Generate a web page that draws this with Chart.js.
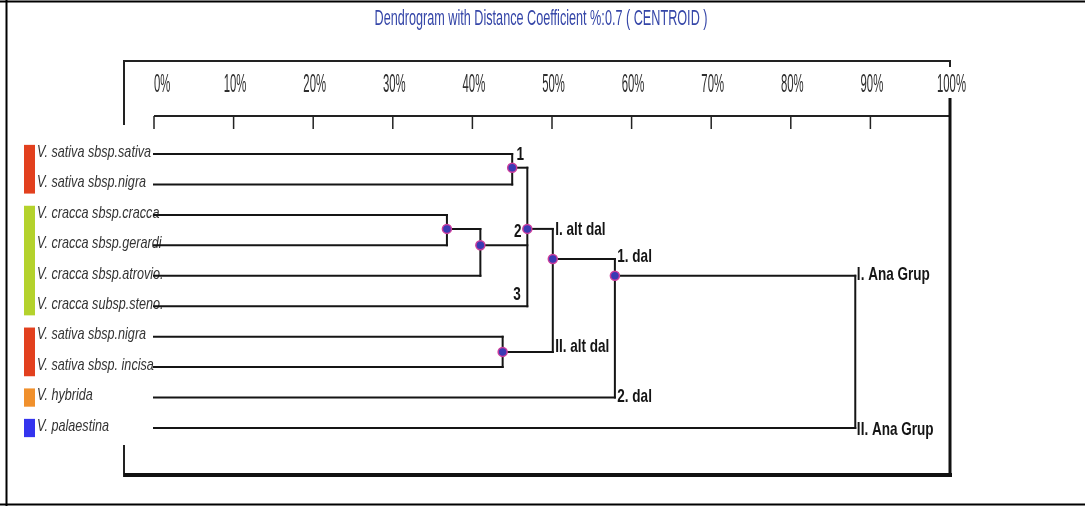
<!DOCTYPE html>
<html>
<head>
<meta charset="utf-8">
<title>Dendrogram</title>
<script src="https://cdn.jsdelivr.net/npm/chart.js@4.4.1/dist/chart.umd.min.js"></script>
<style>
  html, body { margin: 0; padding: 0; background: #fff; }
  #wrap { width: 1085px; height: 506px; }
</style>
</head>
<body>
<div id="wrap"><canvas id="dendro" width="1085" height="506"></canvas></div>
<script>
// leaves, top to bottom (row 1..10)
const leafNames = [
  'V. sativa sbsp.sativa',
  'V. sativa sbsp.nigra',
  'V. cracca sbsp.cracca',
  'V. cracca sbsp.gerardi',
  'V. cracca sbsp.atrovio.',
  'V. cracca subsp.steno.',
  'V. sativa sbsp.nigra',
  'V. sativa sbsp. incisa',
  'V. hybrida',
  'V. palaestina'
];

// colour strips on the left
const groupStart = [1, 3, 7, 9, 10];
const groupEnd = [2, 6, 8, 9, 10];
const groupColors = ['#e2401e', '#b4d22c', '#e2401e', '#f0902c', '#3434ee'];

// merge nodes: distance (%), children (positive = leaf row, negative = node number), row of the dot
const nodeDist = [45.0, 36.8, 41.0, 46.9, 43.8, 50.1, 57.9, 88.1];
const nodeChildren = [[1, 2], [3, 4], [-2, 5], [-1, -3, 6], [7, 8], [-4, -5], [-6, 9], [-7, 10]];
const nodeRow = [1.45, 3.46, 4.0, 3.46, 7.5, 4.45, 5.0, null];

const xTicks = [0, 10, 20, 30, 40, 50, 60, 70, 80, 90, 100];

// text marks on the tree
const annText = ['1', '2', '3', 'I. alt dal', 'II. alt dal', '1. dal', '2. dal', 'I. Ana Grup', 'II. Ana Grup'];
const annX = [46.0, 45.7, 45.6, 50.4, 50.4, 58.2, 58.2, 88.3, 88.3];
const annY = [1.03, 3.56, 5.63, 3.5, 7.34, 4.38, 8.98, 4.97, 10.07];

const title = 'Dendrogram with Distance Coefficient %:0.7 ( CENTROID )';

// build the line segments of the tree
function childPoint(c) {
  return c > 0 ? { x: 0, y: c } : { x: nodeDist[-c - 1], y: nodeRow[-c - 1] };
}

const segments = [];
nodeDist.forEach((d, i) => {
  const kids = nodeChildren[i].map(childPoint);
  kids.forEach(k => segments.push([{ x: k.x, y: k.y }, { x: d, y: k.y }]));
  const ys = kids.map(k => k.y);
  segments.push([{ x: d, y: Math.min(...ys) }, { x: d, y: Math.max(...ys) }]);
});

const dots = nodeDist
  .map((d, i) => ({ x: d, y: nodeRow[i] }))
  .filter(p => p.y !== null);

function fitScale(ctx, font, sample, target) {
  ctx.save();
  ctx.font = font;
  const w = ctx.measureText(sample).width;
  ctx.restore();
  return target / w;
}

function squeezeText(ctx, text, x, y, font, color, align, sx) {
  ctx.save();
  ctx.font = font;
  ctx.fillStyle = color;
  ctx.textAlign = align;
  ctx.textBaseline = 'middle';
  ctx.translate(x, y);
  ctx.scale(sx, 1);
  ctx.fillText(text, 0, 0);
  ctx.restore();
}

function line(ctx, x1, y1, x2, y2, w, color) {
  ctx.save();
  ctx.strokeStyle = color || '#111';
  ctx.lineWidth = w;
  ctx.beginPath();
  ctx.moveTo(x1, y1);
  ctx.lineTo(x2, y2);
  ctx.stroke();
  ctx.restore();
}

const decor = {
  id: 'decor',
  beforeDatasetsDraw(chart) {
    const ctx = chart.ctx;
    const xs = chart.scales.x;
    const ys = chart.scales.y;

    // outer border
    line(ctx, 6.5, 0, 6.5, 506, 2, '#000');
    line(ctx, 0, 1.5, 1085, 1.5, 2, '#000');
    line(ctx, 0, 504.5, 1085, 504.5, 2, '#000');

    // title
    const tFont = '22px "Liberation Sans", Arial, sans-serif';
    squeezeText(ctx, title, 541, 19, tFont, '#3546a8', 'center', fitScale(ctx, tFont, title, 333));

    // panel frame
    const right = xs.getPixelForValue(100);
    line(ctx, 124, 61, right, 61, 2, '#222');
    line(ctx, right, 60, right, 67, 2, '#222');
    line(ctx, 124, 60, 124, 125, 2, '#222');
    line(ctx, 124, 445, 124, 477, 2, '#222');
    line(ctx, 124, 475, right + 2, 475, 4, '#111');

    // axis line, ticks and labels
    line(ctx, xs.getPixelForValue(0), 116, right, 116, 2, '#222');
    const aFont = '25px "Liberation Sans", Arial, sans-serif';
    const aScale = fitScale(ctx, aFont, '100%', 29);
    xTicks.forEach((t, i) => {
      const px = xs.getPixelForValue(t);
      if (t === 100) {
        line(ctx, px, 98, px, 476, 3, '#111');
      } else {
        line(ctx, px, 116, px, 129, 1.5, '#222');
      }
      if (i === 0) squeezeText(ctx, t + '%', px, 85, aFont, '#2e2e2e', 'left', aScale);
      else squeezeText(ctx, t + '%', px + 1.5, 85, aFont, '#2e2e2e', 'center', aScale);
    });

    // colour strips
    groupStart.forEach((s, i) => {
      const top = ys.getPixelForValue(s - 0.3);
      const bot = ys.getPixelForValue(groupEnd[i] + 0.3);
      ctx.fillStyle = groupColors[i];
      ctx.fillRect(24, top, 11, bot - top);
    });

    // leaf names
    const lFont = 'italic 17px "Liberation Sans", Arial, sans-serif';
    const lScale = fitScale(ctx, lFont, leafNames[0], 114);
    leafNames.forEach((name, i) => {
      squeezeText(ctx, name, 37, ys.getPixelForValue(i + 1) - 2, lFont, '#333', 'left', lScale);
    });
  },
  afterDatasetsDraw(chart) {
    const ctx = chart.ctx;
    const xs = chart.scales.x;
    const ys = chart.scales.y;
    const bFont = 'bold 19px "Liberation Sans", Arial, sans-serif';
    const bScale = fitScale(ctx, bFont, 'I. Ana Grup', 73);
    annText.forEach((t, i) => {
      const align = t.length === 1 ? 'center' : 'left';
      squeezeText(ctx, t, xs.getPixelForValue(annX[i]), ys.getPixelForValue(annY[i]),
        bFont, '#151515', align, bScale);
    });
  }
};

const datasets = [{
  label: 'nodes',
  data: dots,
  pointRadius: 4.5,
  pointBackgroundColor: '#3a3ab4',
  pointBorderColor: '#cc3c9c',
  pointBorderWidth: 1.5,
  showLine: false,
  clip: false
}];

segments.forEach((seg, i) => {
  datasets.push({
    label: 'link' + i,
    data: seg,
    showLine: true,
    borderColor: '#151515',
    borderWidth: 2,
    borderCapStyle: 'square',
    pointRadius: 0,
    clip: false
  });
});

new Chart(document.getElementById('dendro'), {
  type: 'scatter',
  data: { datasets: datasets },
  options: {
    responsive: false,
    animation: false,
    devicePixelRatio: 1,
    events: [],
    layout: { padding: { left: 154, right: 135, top: 154, bottom: 78 } },
    plugins: {
      legend: { display: false },
      tooltip: { enabled: false },
      title: { display: false }
    },
    scales: {
      x: { type: 'linear', min: 0, max: 100, display: false },
      y: { type: 'linear', min: 1, max: 10, reverse: true, display: false }
    }
  },
  plugins: [decor]
});
</script>
</body>
</html>
